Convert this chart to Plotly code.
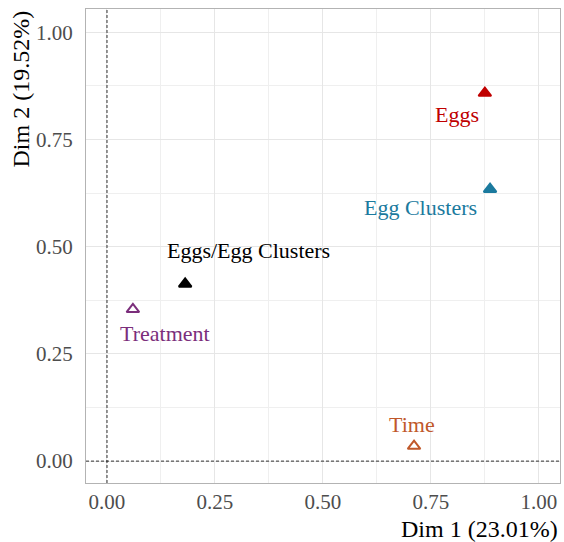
import plotly.graph_objects as go

labels = ["Eggs", "Egg Clusters", "Eggs/Egg Clusters", "Treatment", "Time"]
dim1 = [0.875, 0.887, 0.181, 0.060, 0.711]
dim2 = [0.858, 0.634, 0.413, 0.354, 0.035]
colors = ["#C00000", "#1B7A9E", "#000000", "#7B2E7B", "#C0582A"]
symbols = ["triangle-up", "triangle-up", "triangle-up", "triangle-up-open", "triangle-up-open"]
# label offsets (px) relative to point
xshifts = [-28, -70, 63, 32, -2]
yshifts = [-21, -18, 33, -24, 22]

ticks = [0.0, 0.25, 0.5, 0.75, 1.0]
ticktext = ["0.00", "0.25", "0.50", "0.75", "1.00"]

FONT = "Liberation Serif"

fig = go.Figure()
for i in range(len(labels)):
    fig.add_trace(go.Scatter(
        x=[dim1[i]], y=[dim2[i]], mode="markers",
        marker=dict(symbol=symbols[i], size=11, color=colors[i],
                    line=dict(color=colors[i], width=2)),
        showlegend=False, hoverinfo="skip"))
    fig.add_annotation(x=dim1[i], y=dim2[i], text=labels[i], showarrow=False,
                       xshift=xshifts[i], yshift=yshifts[i],
                       font=dict(family=FONT, size=22, color=colors[i]))

fig.add_shape(type="line", xref="x", yref="paper", x0=0, x1=0, y0=0, y1=1,
              line=dict(color="black", width=0.8, dash="3px,2px"))
fig.add_shape(type="line", xref="paper", yref="y", x0=0, x1=1, y0=0, y1=0,
              line=dict(color="black", width=0.8, dash="3px,2px"))

axis_common = dict(
    tickvals=ticks, ticktext=ticktext, showgrid=True, gridcolor="#E6E6E6",
    gridwidth=1, zeroline=False, showline=True, linecolor="#B3B3B3",
    linewidth=1, mirror=True, ticks="",
    tickfont=dict(family=FONT, size=21, color="#4D4D4D"),
    minor=dict(tickvals=[-0.125 + 0.25 * k for k in range(0, 6)], showgrid=True,
               gridcolor="#EFEFEF", gridwidth=1),
)
fig.update_xaxes(range=[-0.0486, 1.049], ticklabelstandoff=0, **axis_common)
fig.update_yaxes(range=[-0.051, 1.054], ticklabelstandoff=8, **axis_common)

fig.add_annotation(xref="paper", yref="paper", x=1, y=0, yshift=-31,
                   xanchor="right", yanchor="top", text="Dim 1 (23.01%)",
                   showarrow=False, font=dict(family=FONT, size=24, color="black"))
fig.add_annotation(xref="paper", yref="paper", x=0, y=1, xshift=-66,
                   xanchor="center", yanchor="top", textangle=-90,
                   text="Dim 2 (19.52%)", showarrow=False,
                   font=dict(family=FONT, size=24, color="black"))

fig.update_layout(
    width=564, height=542, autosize=False,
    margin=dict(l=86, r=4, t=9, b=59),
    plot_bgcolor="white", paper_bgcolor="white",
    font=dict(family=FONT),
)
fig.write_html("out.html", config={"displayModeBar": False},
               post_script="document.body.style.margin='0';")
